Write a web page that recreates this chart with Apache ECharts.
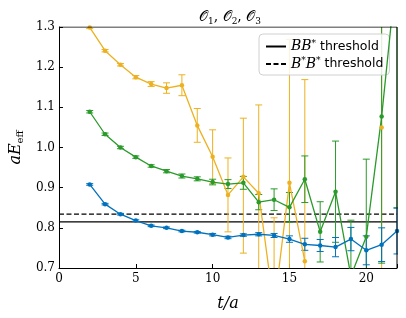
<!DOCTYPE html>
<html><head><meta charset="utf-8">
<script src="https://cdn.jsdelivr.net/npm/echarts@6/dist/echarts.min.js"></script>
<style>html,body{margin:0;padding:0;background:#fff}#c{width:406px;height:318px}</style>
</head><body><div id="c"></div>
<script>
const tValues = [2,3,4,5,6,7,8,9,10,11,12,13,14,15,16,17,18,19,20,21,22];
const orangeVals = [1.299,1.241,1.206,1.175,1.158,1.148,1.155,1.055,0.977,0.882,0.927,0.886,0.60,0.912,0.717,null,null,null,null,1.050,null];
const orangeErrUp = [0.003,0.003,0.003,0.004,0.006,0.013,0.026,0.042,0.067,0.092,0.146,0.22,0.225,0.357,0.452,null,null,null,null,0.5,null];
const orangeErrDn = [0.003,0.003,0.003,0.004,0.006,0.013,0.026,0.042,0.067,0.092,0.19,0.22,0.225,0.357,0.452,null,null,null,null,0.5,null];
const greenVals = [1.089,1.033,1.000,0.976,0.954,0.941,0.929,0.922,0.914,0.909,0.912,0.864,0.870,0.851,0.921,0.790,0.890,0.680,0.778,1.077,1.45];
const greenErr = [0.003,0.003,0.003,0.003,0.003,0.004,0.005,0.005,0.007,0.011,0.016,0.019,0.027,0.037,0.058,0.075,0.126,0.139,0.193,0.365,0.6];
const blueVals = [0.908,0.859,0.834,0.818,0.805,0.800,0.792,0.789,0.783,0.776,0.782,0.784,0.781,0.772,0.759,0.756,0.752,0.772,0.744,0.758,0.792];
const blueErr = [0.002,0.002,0.002,0.002,0.002,0.002,0.002,0.002,0.003,0.003,0.003,0.004,0.005,0.008,0.015,0.015,0.024,0.029,0.036,0.042,0.057];
const thresholdBB = 0.815;
const thresholdBsBs = 0.834;
const xTicks = [0,5,10,15,20];
const yTicks = [0.7,0.8,0.9,1.0,1.1,1.2,1.3];

const COL = {orange:'#EDB120', green:'#2a9a2a', blue:'#0072BD'};
const serif = '"DejaVu Serif", "Liberation Serif", serif';

function pts(vals){ return tValues.map((t,i)=> vals[i]==null ? [t,null] : [t, vals[i]]); }
function errData(vals, up, dn){
  const out=[];
  tValues.forEach((t,i)=>{ if(vals[i]!=null && up[i]!=null) out.push([t, vals[i]-dn[i], vals[i]+up[i]]); });
  return out;
}
function errSeries(data, color){
  return {
    type:'custom', clip:true, silent:true, z:3,
    data,
    encode:{x:0, y:[1,2]},
    renderItem(params, api){
      const x=api.value(0);
      const lo=api.coord([x, api.value(1)]);
      const hi=api.coord([x, api.value(2)]);
      const w=3.5;
      const st={stroke:color, lineWidth:1};
      return {type:'group', children:[
        {type:'line', shape:{x1:lo[0],y1:lo[1],x2:hi[0],y2:hi[1]}, style:st},
        {type:'line', shape:{x1:lo[0]-w,y1:lo[1],x2:lo[0]+w,y2:lo[1]}, style:st},
        {type:'line', shape:{x1:hi[0]-w,y1:hi[1],x2:hi[0]+w,y2:hi[1]}, style:st}
      ]};
    }
  };
}
function lineSeries(vals, color){
  return {type:'line', data:pts(vals), connectNulls:false, clip:true, z:4,
    symbol:'circle', symbolSize:4.5, showSymbol:true,
    lineStyle:{color, width:1.3}, itemStyle:{color}, animation:false};
}

const chart = echarts.init(document.getElementById('c'), null, {renderer:'canvas'});
chart.setOption({
  animation:false,
  title:{text:'{o|𝒪}{s|1}{t|, }{o|𝒪}{s|2}{t|, }{o|𝒪}{s|3}', left:225, top:4, textAlign:'center',
    textStyle:{fontWeight:'normal', rich:{
      o:{fontFamily:serif, fontSize:14, fontWeight:'normal', color:'#000'},
      s:{fontFamily:serif, fontSize:9, fontWeight:'normal', color:'#000', verticalAlign:'bottom', padding:[8,0,0,0]},
      t:{fontFamily:serif, fontSize:14, fontWeight:'normal', color:'#000'}}}},
  grid:{left:53, right:9, top:27, bottom:50},
  legend:{
    left:259, top:34, orient:'vertical', itemWidth:20, itemHeight:8, itemGap:3,
    backgroundColor:'rgba(255,255,255,0.85)', borderColor:'#d0d0d0', borderWidth:1, borderRadius:4,
    padding:[5,6,4,6],
    itemStyle:{opacity:0},
    data:['BB','BsBs'],
    formatter(name){
      return name==='BB' ? '{i|BB}{s|*}{t| threshold}' : '{i|B}{s|*}{i|B}{s|*}{t| threshold}';
    },
    textStyle:{rich:{
      i:{fontFamily:serif, fontStyle:'italic', fontSize:14, color:'#000'},
      s:{fontFamily:serif, fontSize:9, color:'#000', verticalAlign:'top', padding:[0,0,6,0]},
      t:{fontFamily:'"DejaVu Sans", sans-serif', fontSize:12.5, color:'#000'}}}
  },
  xAxis:{type:'value', min:0, max:22, interval:5,
    name:'t/a', nameLocation:'middle', nameGap:28,
    nameTextStyle:{fontFamily:serif, fontStyle:'italic', fontSize:16, color:'#000'},
    axisLine:{show:true, onZero:false, lineStyle:{color:'#000', width:1}},
    axisTick:{show:true, inside:true, length:4, lineStyle:{color:'#000'}},
    axisLabel:{fontFamily:serif, fontSize:12, color:'#000', margin:5,
      formatter:v=> xTicks.includes(v)? String(v):''},
    splitLine:{show:false}},
  yAxis:{type:'value', min:0.7, max:1.3, interval:0.1,
    name:'{i|aE}{s|eff}', nameLocation:'middle', nameGap:30, nameRotate:90,
    nameTextStyle:{rich:{
      i:{fontFamily:serif, fontStyle:'italic', fontSize:16, color:'#000'},
      s:{fontFamily:serif, fontSize:10, color:'#000', verticalAlign:'bottom', padding:[8,0,0,0]}}},
    axisLine:{show:true, onZero:false, lineStyle:{color:'#000', width:1}},
    axisTick:{show:true, inside:true, length:4, lineStyle:{color:'#000'}},
    axisLabel:{fontFamily:serif, fontSize:12, color:'#000', margin:4,
      formatter:v=> v.toFixed(1)},
    splitLine:{show:false}},
  series:[
    {name:'BB', type:'line', data:[[0,thresholdBB],[22,thresholdBB]], symbol:'none', z:2,
      lineStyle:{color:'#000', width:1.2}, itemStyle:{color:'#000'}},
    {name:'BsBs', type:'line', data:[[0,thresholdBsBs],[22,thresholdBsBs]], symbol:'none', z:2,
      lineStyle:{color:'#000', width:1.2, type:[5,2.5]}, itemStyle:{color:'#000'}},
    errSeries(errData(orangeVals, orangeErrUp, orangeErrDn), COL.orange),
    lineSeries(orangeVals, COL.orange),
    errSeries(errData(greenVals, greenErr, greenErr), COL.green),
    lineSeries(greenVals, COL.green),
    errSeries(errData(blueVals, blueErr, blueErr), COL.blue),
    lineSeries(blueVals, COL.blue),
    {type:'line', data:[[0,1.3],[22,1.3]], symbol:'none', silent:true, z:10,
      lineStyle:{color:'#000', width:1}},
    {type:'line', data:[[22,0.7],[22,1.3]], symbol:'none', silent:true, z:10,
      lineStyle:{color:'#000', width:1}}
  ]
});
</script></body></html>
